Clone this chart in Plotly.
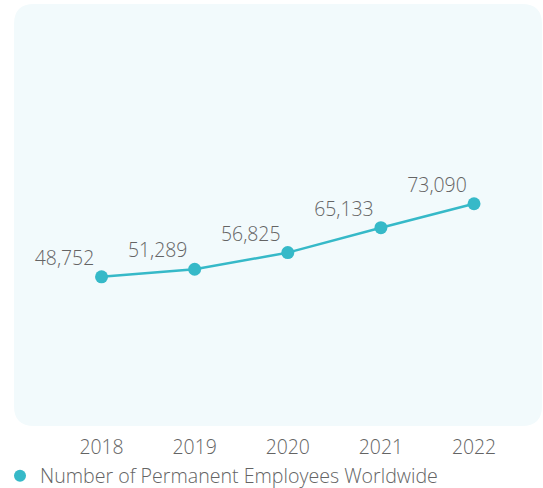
import plotly.graph_objects as go

years = ["2018", "2019", "2020", "2021", "2022"]
employees = [48752, 51289, 56825, 65133, 73090]
series_name = "Number of Permanent Employees Worldwide"

LINE = "#36b9c8"
TXT = "#646464"
BG = "#f2fafc"
FONT = "Open Sans"

W, H = 543, 488
ml, mr, mt, mb = 14, 1, 4, 62
pw, ph = W - ml - mr, H - mt - mb
rx, ry = 20 / pw, 20 / ph

fig = go.Figure()
fig.add_trace(go.Scatter(
    x=years, y=employees, mode="lines+markers+text",
    line=dict(color=LINE, width=2.5),
    marker=dict(color=LINE, size=10),
    text=[f"{v:,}" for v in employees],
    textposition="top left",
    textfont=dict(family=FONT, size=19.4, color=TXT, weight=300),
    showlegend=False, hoverinfo="skip", cliponaxis=False,
))
fig.add_trace(go.Scatter(
    x=years, y=employees, mode="markers",
    marker=dict(color=LINE, size=13),
    name=series_name, showlegend=True, hoverinfo="skip",
))

path = (f"M {rx},1 L {1-rx},1 Q 1,1 1,{1-ry} L 1,{ry} Q 1,0 {1-rx},0 "
        f"L {rx},0 Q 0,0 0,{ry} L 0,{1-ry} Q 0,1 {rx},1 Z")
fig.add_shape(type="path", path=path, xref="paper", yref="paper",
              fillcolor=BG, line=dict(width=0), layer="below")

fig.update_layout(
    width=W, height=H,
    margin=dict(l=ml, r=mr, t=mt, b=mb, autoexpand=False),
    paper_bgcolor="white", plot_bgcolor="rgba(0,0,0,0)",
    font=dict(family=FONT, size=19.4, color=TXT, weight=300),
    xaxis=dict(type="category", range=[-0.94, 4.73], showgrid=False,
               zeroline=False, showline=False, ticks="outside",
               ticklen=4, tickcolor="rgba(0,0,0,0)",
               tickfont=dict(family=FONT, size=19.4, color=TXT, weight=300),
               fixedrange=True),
    yaxis=dict(range=[-900, 139600], visible=False, fixedrange=True),
    legend=dict(orientation="h", xref="container", yref="container",
                x=0, xanchor="left", y=(H - 476) / H, yanchor="middle",
                font=dict(family=FONT, size=19.6, color=TXT, weight=300),
                bgcolor="rgba(0,0,0,0)", itemsizing="constant"),
)

fig.write_html("out.html", config={"displayModeBar": False},
               post_script="document.body.style.margin='0';")
